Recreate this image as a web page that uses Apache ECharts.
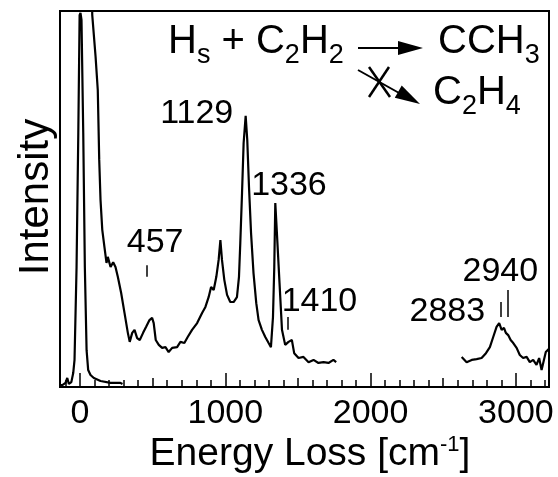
<!DOCTYPE html>
<html>
<head>
<meta charset="utf-8">
<script src="https://cdn.jsdelivr.net/npm/echarts@6/dist/echarts.min.js"></script>
<style>html,body{margin:0;padding:0;background:#fff;}#c{width:558px;height:477px;}</style>
</head>
<body>
<div id="c"></div>
<script>
// ---- data (energy loss in cm^-1, intensity in arbitrary units) ----
const elasticData = [[-138,0.5],[-122,0.5],[-100,1.1],[-88,2.4],[-77,0.8],[-60,1.3],[-47,3.7],[-38,7.2],[-24,31.9],[-12,67.6],[-3,98.9],[3,99.5],[10,97.6],[22,67.6],[33,31.9],[45,9.8],[56,4.5],[72,3.2],[95,2.4],[141,1.6],[210,1.1],[278,1.1],[292,0.8]];
const lossLowData = [[78,115],[84,98.9],[107,87.8],[122,79.0],[132,60.4],[141,49.7],[153,41.8],[168,37.2],[182,33.0],[191,34.6],[210,31.9],[228,33.2],[244,31.9],[260,29.3],[283,25.0],[306,19.7],[329,14.4],[342,12.0],[359,14.4],[375,15.2],[393,13.0],[411,12.5],[434,14.4],[455,16.0],[478,17.8],[496,18.4],[507,17.0],[521,12.5],[542,11.2],[565,10.4],[588,10.6],[610,9.3],[634,10.4],[668,10.6],[691,12.0],[718,11.7],[741,13.3],[771,15.2],[806,17.0],[840,19.7],[863,21.3],[885,23.9],[902,26.6],[920,25.8],[938,29.3],[954,33.8],[966,39.1],[977,33.8],[993,28.5],[1012,24.5],[1034,22.6],[1057,22.6],[1080,23.9],[1094,29.3],[1103,38.3],[1115,51.6],[1126,64.9],[1140,72.1],[1151,65.7],[1163,53.2],[1177,41.0],[1194,30.3],[1213,22.3],[1229,17.8],[1252,15.2],[1275,13.3],[1298,11.7],[1314,10.6],[1328,18.6],[1337,31.9],[1344,48.9],[1355,41.0],[1373,27.7],[1390,15.2],[1412,11.2],[1435,12.0],[1458,12.5],[1474,9.0],[1504,7.7],[1538,8.0],[1573,6.6],[1607,7.2],[1641,6.4],[1676,6.6],[1710,6.4],[1744,7.2],[1763,6.6]];
const lossHighData = [[2627,8.0],[2661,6.6],[2696,7.2],[2730,7.4],[2764,7.7],[2794,9.0],[2821,10.6],[2844,13.3],[2867,16.0],[2885,17.0],[2902,15.2],[2918,15.7],[2931,14.4],[2947,13.8],[2964,12.5],[2982,11.7],[3005,10.4],[3027,8.5],[3050,7.7],[3074,8.0],[3096,6.6],[3119,7.2],[3142,5.9],[3160,7.7],[3177,4.5],[3193,7.2],[3206,9.3],[3218,9.8],[3228,10.2]];
const peakLabels = ['457','1129','1336','1410','2883','2940'];
const peakLabelPos = [[517,38.3],[803,72.6],[1438,53.5],[1648,22.7],[2528,20.1],[2893,30.7]];
const peakMarkers = [[462,29.3,32.4],[1428,15.2,18.6],[2897,18.6,22.6],[2945,18.6,25.8]];
const majorTicks = [0,1000,2000,3000];
const midTicks = [500,1500,2500];
const minorTicks = [-100,100,200,300,400,600,700,800,900,1100,1200,1300,1400,1600,1700,1800,1900,2100,2200,2300,2400,2600,2700,2800,2900,3100,3200];
const xMin = -138, xMax = 3228;

const FF = '"Liberation Sans", Arial, Helvetica, sans-serif';
const cv = document.createElement('canvas').getContext('2d');
function measure(t, size){ cv.font = size + 'px ' + FF; return cv.measureText(t).width; }
// parts: [text, kind] kind 0 normal, 1 subscript, 2 superscript
function formula(parts, x0, base, size, subSize, shift, align){
  const widths = parts.map(p => measure(p[0], p[1] ? subSize : size));
  const total = widths.reduce((a,b)=>a+b,0);
  let x = align === 'center' ? x0 - total/2 : x0;
  return parts.map((p,i) => {
    const s = p[1] ? subSize : size;
    const b = p[1] === 1 ? base + shift : (p[1] === 2 ? base - shift : base);
    const el = {type:'text', x:x, y:b - 0.35*s, silent:true,
      style:{text:p[0], fontSize:s, fontFamily:FF, fill:'#000', align:'left', verticalAlign:'middle'}};
    x += widths[i];
    return el;
  });
}

const chart = echarts.init(document.getElementById('c'), null, {renderer:'canvas'});

const lineSeries = (data) => ({type:'line', data:data, xAxisIndex:0, yAxisIndex:0, symbol:'none', clip:true,
  lineStyle:{color:'#000', width:2.2}, itemStyle:{color:'#000'}, silent:true});

const tickAxis = (vals, len) => ({type:'value', min:xMin, max:xMax, gridIndex:0, position:'bottom',
  axisLine:{show:false}, axisLabel:{show:false}, splitLine:{show:false},
  axisTick:{show:true, inside:true, length:len, customValues:vals, lineStyle:{color:'#000', width:1.5}}});

const graphics = [].concat(
  [{type:'text', x:36, y:197, rotation:Math.PI/2, silent:true,
    style:{text:'Intensity', fontSize:42, fontFamily:FF, fill:'#000', align:'center', verticalAlign:'middle'}}],
  formula([['Energy Loss [cm',0],['-1',2],[']',0]], 310, 468, 39, 22, 15, 'center'),
  formula([['H',0],['s',1],[' + C',0],['2',1],['H',0],['2',1]], 168, 56, 40, 27, 9, 'left'),
  formula([['C',0],['C',0],['H',0],['3',1]], 438, 56, 40, 27, 9, 'left'),
  formula([['C',0],['2',1],['H',0],['4',1]], 433, 107, 40, 27, 9, 'left'),
  [
    {type:'line', silent:true, shape:{x1:358,y1:48,x2:402,y2:48}, style:{stroke:'#000', lineWidth:2}},
    {type:'polygon', silent:true, shape:{points:[[398,41],[423,48],[398,55]]}, style:{fill:'#000'}},
    {type:'line', silent:true, shape:{x1:358,y1:70,x2:400,y2:93.5}, style:{stroke:'#000', lineWidth:2}},
    {type:'polygon', silent:true, shape:{points:[[394.8,97.8],[420,104],[401.7,85.6]]}, style:{fill:'#000'}},
    {type:'line', silent:true, shape:{x1:369,y1:67,x2:390,y2:97}, style:{stroke:'#000', lineWidth:2.5}},
    {type:'line', silent:true, shape:{x1:389,y1:67,x2:369,y2:97}, style:{stroke:'#000', lineWidth:2.5}}
  ]
);

chart.setOption({
  animation:false,
  backgroundColor:'#fff',
  grid:{left:60, top:11, right:9, bottom:90, show:true, borderColor:'#000', borderWidth:2, backgroundColor:'transparent'},
  xAxis:[
    {type:'value', min:xMin, max:xMax, gridIndex:0, position:'bottom',
     axisLine:{show:true, onZero:false, lineStyle:{color:'#000', width:2}},
     axisTick:{show:true, inside:true, length:14, customValues:majorTicks, lineStyle:{color:'#000', width:1.5}},
     axisLabel:{show:true, customValues:majorTicks, fontSize:34, fontFamily:FF, color:'#000', margin:10,
       formatter: v => String(v)},
     splitLine:{show:false}},
    tickAxis(midTicks, 9),
    tickAxis(minorTicks, 7)
  ],
  yAxis:{type:'value', min:0, max:100, show:false, splitLine:{show:false}},
  series:[
    lineSeries(elasticData),
    lineSeries(lossLowData),
    lineSeries(lossHighData),
    {type:'scatter', xAxisIndex:0, yAxisIndex:0, symbolSize:0, silent:true,
     itemStyle:{opacity:1, color:'#000'},
     data: peakLabels.map((t,i) => ({name:t, value:peakLabelPos[i]})),
     label:{show:true, position:'inside', formatter:'{b}', fontSize:34, fontFamily:FF, color:'#000', opacity:1,
       textBorderWidth:0},
     markLine:{silent:true, symbol:'none', animation:false, label:{show:false},
       lineStyle:{color:'#000', width:1.5, type:'solid', opacity:1},
       data: peakMarkers.map(m => [{coord:[m[0], m[1]]},{coord:[m[0], m[2]]}])}}
  ],
  graphic: graphics
});
</script>
</body>
</html>
